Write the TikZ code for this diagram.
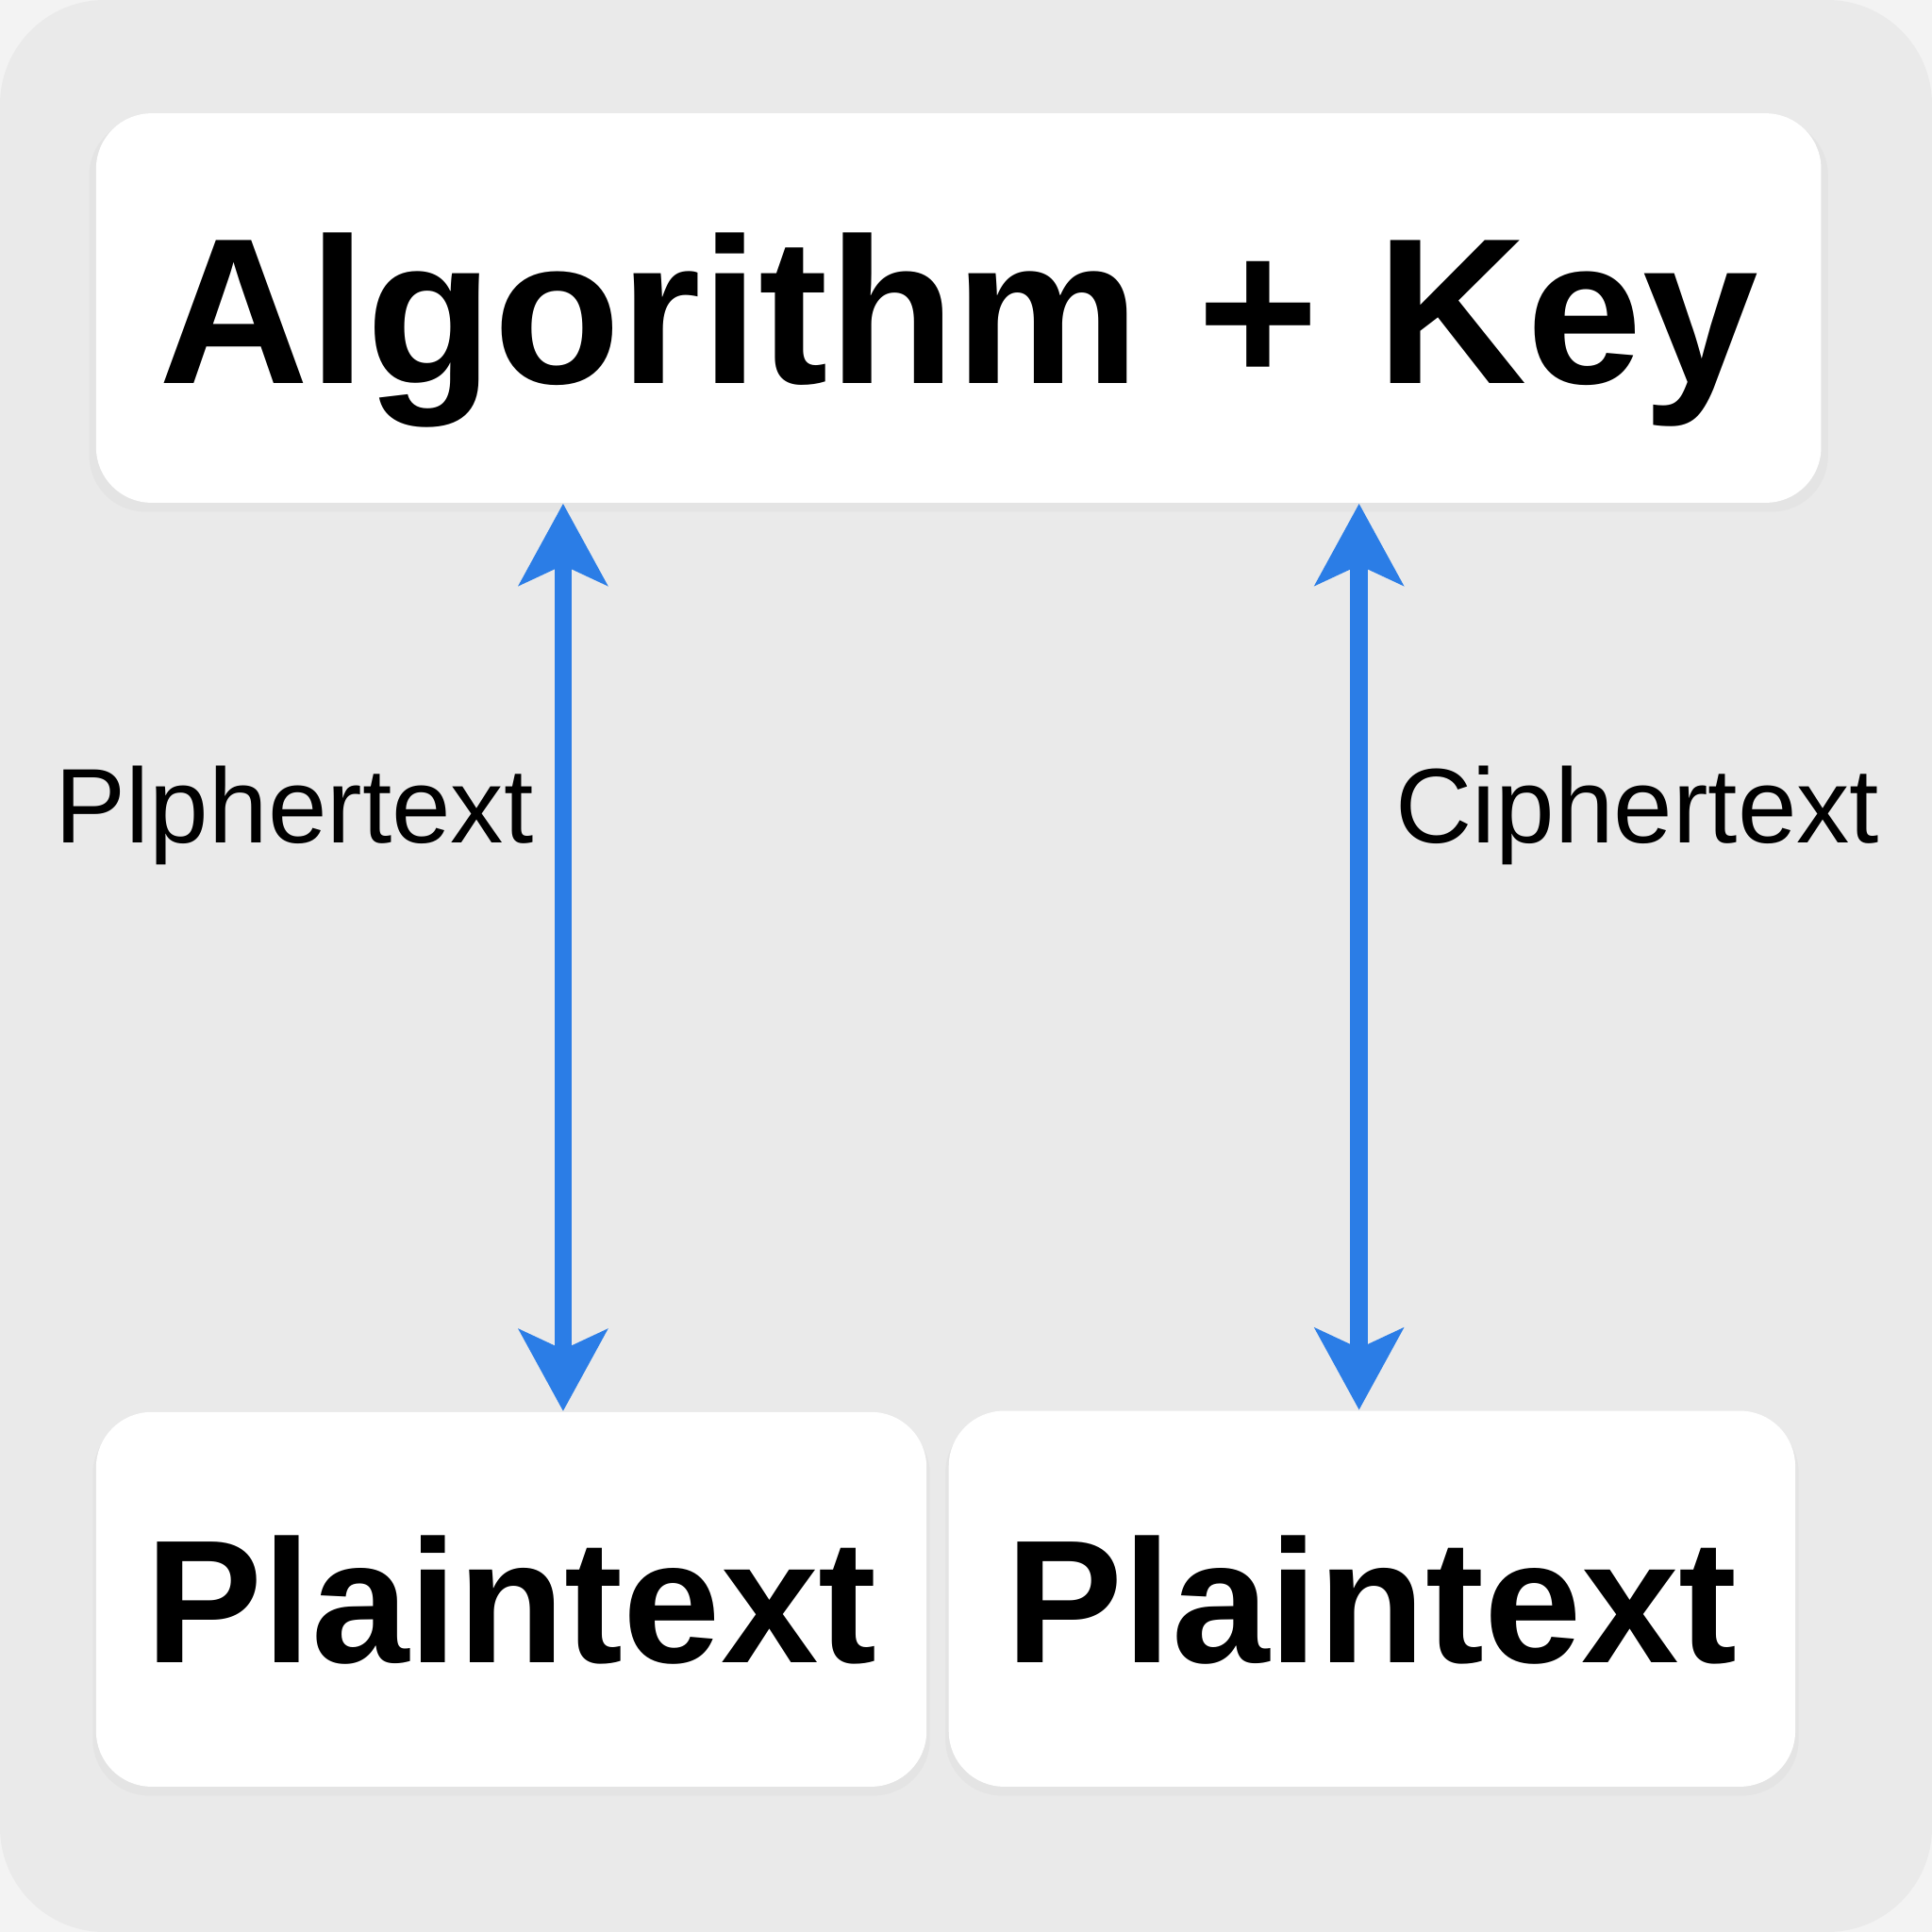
\documentclass[tikz,border=0pt]{standalone}
\usepackage{fontspec}
\setmainfont{Liberation Sans}
\usetikzlibrary{arrows.meta,shadows}

\definecolor{pagebg}{HTML}{F3F3F3}
\definecolor{panelbg}{HTML}{EAEAEA}
\definecolor{arrowblue}{HTML}{2B7DE6}

\begin{document}
\begin{tikzpicture}[>={Stealth[length=6.6mm, width=7.1mm, inset=1.6mm]},
  box/.style={draw=none, fill=white, rounded corners=0.45cm,
    drop shadow={opacity=0.05, shadow xshift=0pt, shadow yshift=-0.06cm,
      shadow scale=1.008},
    text depth=0pt, inner sep=0pt},
  dbl/.style={<->, line width=4pt, arrowblue},
  lbl/.style={font=\fontsize{24.5}{26}\selectfont, anchor=base, inner sep=0pt}]
  \useasboundingbox (0,0) rectangle (15.68,-15.68);
  \fill[pagebg] (0,0) rectangle (15.68,-15.68);
  \fill[panelbg, rounded corners=0.85cm] (0,0) rectangle (15.68,-15.68);

  % boxes
  \node[box, minimum width=14cm, minimum height=3.16cm,
    font=\fontsize{48}{50}\selectfont\bfseries] (top) at (7.78,-2.50) {Algorithm + Key};
  \node[box, minimum width=6.74cm, minimum height=3.04cm,
    font=\fontsize{40.5}{42}\selectfont\bfseries] (BL) at (4.15,-12.98) {Plaintext};
  \node[box, minimum width=6.87cm, minimum height=3.05cm,
    font=\fontsize{40.5}{42}\selectfont\bfseries] (BR) at (11.135,-12.975) {Plaintext};

  % arrows
  \draw[dbl] (top.south -| 4.57,0) -- (BL.north -| 4.57,0);
  \draw[dbl] (top.south -| 11.03,0) -- (BR.north -| 11.03,0);

  % labels
  \node[lbl] (lblL) at (2.39,-6.84) {Plphertext};
  \node[lbl] (lblR) at (13.29,-6.84) {Ciphertext};
\end{tikzpicture}
\end{document}
